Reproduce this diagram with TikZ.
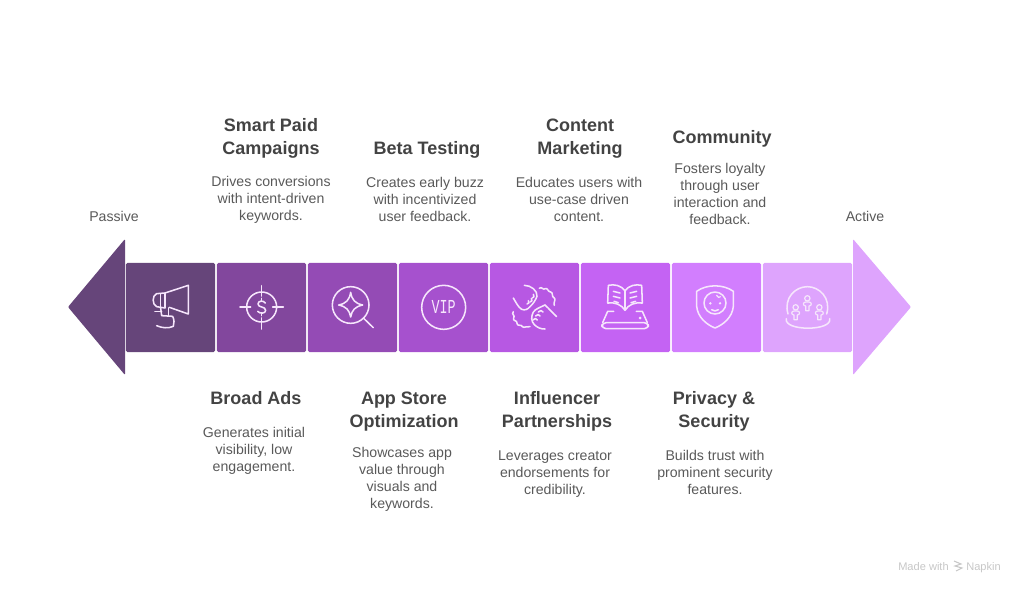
\documentclass[tikz,border=0pt]{standalone}
\usepackage{fontspec}
\usepackage{graphicx}
\setmainfont{Liberation Sans}
\newfontfamily\vipfont{Liberation Mono}
\definecolor{c1}{HTML}{66457A}
\definecolor{c2}{HTML}{82479D}
\definecolor{c3}{HTML}{944BB5}
\definecolor{c4}{HTML}{A651CE}
\definecolor{c5}{HTML}{B758E3}
\definecolor{c6}{HTML}{C463F3}
\definecolor{c7}{HTML}{D27EFE}
\definecolor{c8}{HTML}{DEA4FD}
\definecolor{ink}{HTML}{F6E6FC}
\definecolor{titlecol}{HTML}{434343}
\definecolor{bodycol}{HTML}{595959}
\tikzset{
  stepbox/.style={rectangle,rounded corners=1.2pt,minimum size=66.9pt,inner sep=0pt,draw=none},
  headshape/.style={line join=round,draw=none},
  titletext/.style={align=center,text=titlecol,inner sep=0pt,font=\fontsize{13.5}{17.25}\selectfont\bfseries},
  bodytext/.style={align=center,text=bodycol,inner sep=0pt,font=\fontsize{10.6}{12.75}\selectfont},
  endtext/.style={text=bodycol,inner sep=0pt,font=\fontsize{10.6}{12.75}\selectfont},
  marktext/.style={text=black!22,inner sep=0pt,font=\fontsize{8.3}{10}\selectfont},
  icon/.style={draw=ink,line width=1.15pt,line cap=round,line join=round},
  thinicon/.style={draw=ink,line width=.9pt,line cap=round,line join=round},
  zoomed/.style={x=.25pt,y=-.25pt}
}
\newcommand{\persona}[2]{%
  \draw[thinicon] (#1,#2-8) circle (8);
  \draw[thinicon] (#1-5,#2+29) -- (#1-5,#2+15) .. controls (#1-14,#2+15) and (#1-14,#2+3) .. (#1-5,#2+3)
     -- (#1+5,#2+3) .. controls (#1+14,#2+3) and (#1+14,#2+15) .. (#1+5,#2+15) -- (#1+5,#2+29) -- cycle;
}
\begin{document}
\begin{tikzpicture}[x=.75pt,y=-.75pt]
\useasboundingbox (0,0) rectangle (1024,592);
% arrow heads
\fill[c1,headshape,rounded corners=.8pt] (125,239) -- (68,307) -- (125,375) -- cycle;
\fill[c8,headshape,rounded corners=.8pt] (853,239) -- (911,307) -- (853,375) -- cycle;
% boxes
\node[stepbox,fill=c1] (b1) at (170.5,307.5) {};
\node[stepbox,fill=c2] (b2) at (261.5,307.5) {};
\node[stepbox,fill=c3] (b3) at (352.5,307.5) {};
\node[stepbox,fill=c4] (b4) at (443.5,307.5) {};
\node[stepbox,fill=c5] (b5) at (534.5,307.5) {};
\node[stepbox,fill=c6] (b6) at (625.5,307.5) {};
\node[stepbox,fill=c7] (b7) at (716.5,307.5) {};
\node[stepbox,fill=c8] (b8) at (807.5,307.5) {};
% megaphone
\begin{scope}[shift={(140,278)},zoomed]
\draw[icon] (75,45) -- (145,22) -- (145,108) -- (88,88);
\draw[icon] (75,45) -- (50,47) .. controls (36,52) and (36,80) .. (50,86) -- (75,90) -- cycle;
\draw[icon] (62,47) -- (62,88);
\draw[icon] (45,100) -- (65,100);
\draw[icon] (62,90) -- (65,113) -- (98,115) .. controls (103,125) and (103,135) .. (100,145) .. controls (85,152) and (65,150) .. (50,143);
\draw[icon] (85,90) -- (85,113);
\end{scope}
% target
\begin{scope}[shift={(60,230)},zoomed]
\draw[icon] (605,231) circle (45);
\draw[icon] (605,167) -- (605,198) (605,264) -- (605,297) (540,231) -- (572,231) (638,231) -- (670,231);
\draw[icon] (616,219) .. controls (610,210) and (594,212) .. (594,222) .. controls (594,234) and (617,228) .. (617,241) .. controls (617,251) and (600,252) .. (593,244);
\draw[icon] (605,205) -- (605,211) (605,250) -- (605,257);
\end{scope}
% search star
\begin{scope}[shift={(300,255)},zoomed]
\draw[icon] (152,150) circle (55);
\draw[icon] (191,190) -- (220,218);
\draw[icon] (152,112) .. controls (156,135) and (165,145) .. (188,150) .. controls (165,155) and (156,165) .. (152,186) .. controls (148,165) and (139,155) .. (116,150) .. controls (139,145) and (148,135) .. (152,112) -- cycle;
\draw[icon] (431,157) circle (66);
\node[inner sep=0pt,text=ink] (viplabel) at (431,157) {\scalebox{.95}[1.4]{\vipfont\fontsize{10.6}{12}\selectfont VIP}};
\end{scope}
% hands
\begin{scope}[shift={(505,278)},zoomed]
\draw[icon] (25,60) .. controls (32,72) and (40,88) .. (50,94) .. controls (60,98) and (68,94) .. (75,86) .. controls (84,78) and (92,66) .. (96,55) .. controls (98,38) and (78,22) .. (58,22);
\draw[icon] (66,78) .. controls (72,78) and (74,72) .. (70,68);
\draw[icon] (75,72) .. controls (81,72) and (83,66) .. (79,61);
\draw[icon] (82,60) .. controls (87,58) and (89,54) .. (85,49);
\draw[icon] (103,31) .. controls (110,24) and (114,38) .. (121,32) .. controls (128,28) and (128,42) .. (137,42) .. controls (146,44) and (138,56) .. (148,60) .. controls (154,64) and (144,74) .. (148,82);
\draw[icon] (120,81) .. controls (132,92) and (144,106) .. (155,116);
\draw[icon] (120,81) .. controls (106,88) and (92,92) .. (85,102) .. controls (78,115) and (78,130) .. (88,140) .. controls (96,148) and (108,154) .. (120,153);
\draw[icon] (92,114) .. controls (96,108) and (103,108) .. (105,114);
\draw[icon] (100,102) .. controls (104,96) and (112,96) .. (114,102);
\draw[icon] (84,126) .. controls (88,120) and (95,120) .. (97,126);
\draw[icon] (25,101) .. controls (18,110) and (32,112) .. (26,120) .. controls (22,130) and (38,126) .. (36,136) .. controls (36,146) and (50,138) .. (52,146) .. controls (58,152) and (66,142) .. (75,146);
\end{scope}
% book
\begin{scope}[shift={(595,278)},zoomed]
\draw[icon] (90,38) .. controls (78,22) and (58,18) .. (40,22) -- (38,75) .. controls (60,72) and (80,80) .. (90,97) .. controls (100,80) and (120,72) .. (142,75) -- (140,22) .. controls (122,18) and (102,22) .. (90,38) -- (90,97);
\draw[icon] (55,40) -- (75,45) (55,55) -- (75,60) (57,70) -- (70,74);
\draw[icon] (105,45) -- (125,40) (105,60) -- (125,55) (108,74) -- (122,70);
\draw[icon] (38,100) -- (23,134) (142,100) -- (157,134) (38,100) -- (56,100) (124,100) -- (142,100);
\draw[icon,rounded corners=3pt] (21,134) rectangle (160,152);
\fill[ink] (135,120) circle (4.5);
\end{scope}
% shield
\begin{scope}[shift={(685,278)},zoomed]
\draw[icon] (35,40) .. controls (65,18) and (115,18) .. (145,40) -- (145,85) .. controls (142,118) and (115,140) .. (90,150) .. controls (65,140) and (38,118) .. (35,85) -- cycle;
\draw[icon] (90,75) circle (33);
\fill[ink] (76,76) circle (4) (105,76) circle (4);
\draw[icon] (80,95) .. controls (86,100) and (94,100) .. (100,95);
\draw[thinicon] (95,52) .. controls (98,60) and (104,60) .. (106,56);
\end{scope}
% dome
\begin{scope}[shift={(778,278)},zoomed]
\draw[icon] (30,108) .. controls (16,60) and (52,26) .. (88,26) .. controls (124,26) and (160,60) .. (146,108);
\draw[icon] (25,122) .. controls (16,160) and (164,160) .. (155,122);
\persona{88}{69}
\persona{53}{96}
\persona{124}{96}
\end{scope}
% texts
\node[endtext] (passive) at (114,216) {Passive};
\node[endtext] (active) at (865,216) {Active};
\node[titletext] (t1) at (271,138.5) {Smart Paid\\Campaigns};
\node[bodytext] (d1) at (271,200) {Drives conversions\\with intent-driven\\keywords.};
\node[titletext] (t2) at (427,150) {Beta Testing};
\node[bodytext] (d2) at (425,199) {Creates early buzz\\with incentivized\\user feedback.};
\node[titletext] (t3) at (580,138.5) {Content\\Marketing};
\node[bodytext] (d3) at (579,199) {Educates users with\\use-case driven\\content.};
\node[titletext] (t4) at (722,139) {Community};
\node[bodytext] (d4) at (720,194) {Fosters loyalty\\through user\\interaction and\\feedback.};
\node[titletext] (t5) at (256,398) {Broad Ads};
\node[bodytext] (d5) at (254,451) {Generates initial\\visibility, low\\engagement.};
\node[titletext] (t6) at (404,411.5) {App Store\\Optimization};
\node[bodytext] (d6) at (402,479) {Showcases app\\value through\\visuals and\\keywords.};
\node[titletext] (t7) at (557,411.5) {Influencer\\Partnerships};
\node[bodytext] (d7) at (555,474) {Leverages creator\\endorsements for\\credibility.};
\node[titletext] (t8) at (714,411.5) {Privacy \&\\Security};
\node[bodytext] (d8) at (715,472) {Builds trust with\\prominent security\\features.};
% watermark
\node[marktext,anchor=base west] (made) at (898,570) {Made with};
\node[marktext,anchor=base west] (napkin) at (966,570) {Napkin};
\draw[black!22,line width=.8pt] (954,561) -- (961,564) -- (955,566) -- (962,568) -- (956,571);
\end{tikzpicture}
\end{document}
